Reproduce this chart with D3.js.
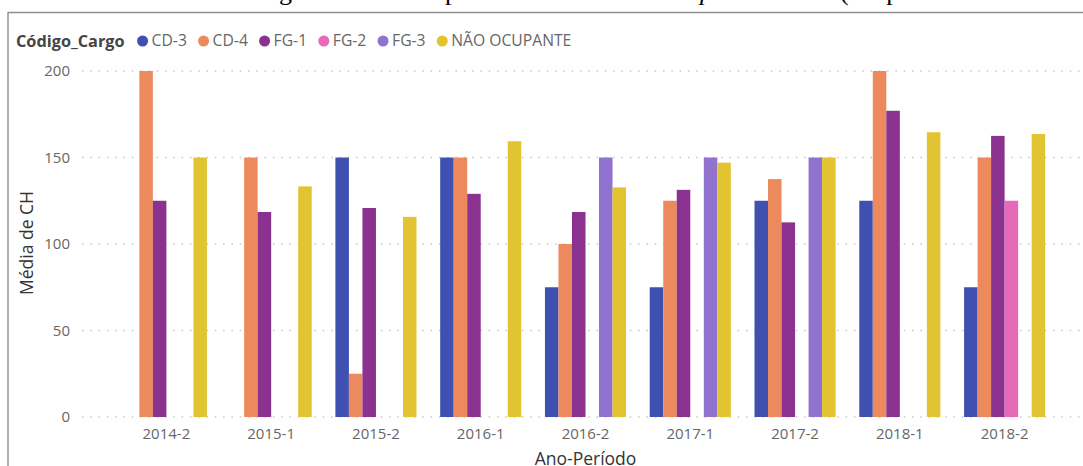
<!DOCTYPE html>
<html>
<head>
<meta charset="utf-8">
<script src="https://cdn.jsdelivr.net/npm/d3@7"></script>
<style>
  html, body { margin: 0; padding: 0; background: #fff; }
  svg { display: block; }
</style>
</head>
<body>
<svg class="chart" width="1083" height="466"></svg>
<script>
    var periods = ["2014-2", "2015-1", "2015-2", "2016-1", "2016-2", "2017-1", "2017-2", "2018-1", "2018-2"];
    var seriesNames = ["CD-3", "CD-4", "FG-1", "FG-2", "FG-3", "NÃO OCUPANTE"];
    var seriesColors = ["#4050b1", "#ec8a5e", "#8b3190", "#e66ab7", "#9173cf", "#e2c433"];

    // Média de CH per period (null = no bar)
    var cd3 = [null, null, 150, 150, 75, 75, 125, 125, 75];
    var cd4 = [200, 150, 25, 150, 100, 125, 137.5, 200, 150];
    var fg1 = [125, 118.5, 120.8, 129, 118.5, 131.3, 112.5, 177, 162.5];
    var fg2 = [null, null, null, null, null, null, null, null, 125];
    var fg3 = [null, null, null, null, 150, 150, 150, null, null];
    var naoOcupante = [150, 133.3, 115.7, 159.4, 132.7, 147, 150, 164.6, 163.6];
    var yTicks = [0, 50, 100, 150, 200];

    var values = [cd3, cd4, fg1, fg2, fg3, naoOcupante];

    var width = 1083;
    var height = 466;
    var svg = d3.select(".chart");
    var font = "'Open Sans', 'Noto Sans', sans-serif";

    // caption of the document above the chart, almost fully cut off
    var caption = [
        { x: 279, anchor: "end", s: "Gráfico 10 - Média de car" },
        { x: 279, anchor: "start", s: "ga horária " },
        { x: 445, anchor: "start", s: "por semestre no " },
        { x: 700, anchor: "end", s: "Cam", italic: true },
        { x: 700, anchor: "start", s: "pus Sede", italic: true },
        { x: 840, anchor: "start", s: "(ocupante ou não de cargo)" }
    ];
    svg.append("g")
        .selectAll("text")
        .data(caption)
        .enter()
        .append("text")
        .attr("x", function (d) { return d.x; })
        .attr("y", -0.5)
        .attr("text-anchor", function (d) { return d.anchor; })
        .attr("font-style", function (d) { return d.italic ? "italic" : "normal"; })
        .attr("font-family", "'Liberation Serif', serif")
        .attr("font-size", 26)
        .attr("fill", "#000")
        .text(function (d) { return d.s; });

    // frame
    svg.append("path")
        .attr("d", "M8," + height + "V12.5H" + width)
        .attr("fill", "none")
        .attr("stroke", "#8f8f8f")
        .attr("stroke-width", 1.4);

    var x0 = d3.scaleBand()
        .domain(periods)
        .range([114, 1057])
        .paddingInner(0.226)
        .paddingOuter(0.113);

    var x1 = d3.scaleBand()
        .domain(seriesNames)
        .range([0, x0.bandwidth()]);

    var yScale = d3.scaleLinear()
        .domain([0, 200])
        .range([417, 71]);

    // grid lines
    svg.append("g")
        .selectAll("line")
        .data(yTicks)
        .enter()
        .append("line")
        .attr("x1", 82)
        .attr("x2", width)
        .attr("y1", function (d) { return yScale(d); })
        .attr("y2", function (d) { return yScale(d); })
        .attr("stroke", "#c8c8c8")
        .attr("stroke-width", 1.5)
        .attr("stroke-dasharray", "1.5,6.8");

    // y tick labels
    svg.append("g")
        .selectAll("text")
        .data(yTicks)
        .enter()
        .append("text")
        .attr("x", 70)
        .attr("y", function (d) { return yScale(d); })
        .attr("dy", "0.35em")
        .attr("text-anchor", "end")
        .attr("font-family", font)
        .attr("font-size", 15)
        .attr("fill", "#666")
        .text(function (d) { return d; });

    // bars
    var groups = svg.append("g")
        .selectAll("g")
        .data(periods)
        .enter()
        .append("g")
        .attr("transform", function (d) { return "translate(" + x0(d) + ",0)"; });

    groups.selectAll("rect")
        .data(function (p, i) {
            return seriesNames.map(function (s, k) {
                return { name: s, value: values[k][i], color: seriesColors[k] };
            }).filter(function (d) { return d.value != null; });
        })
        .enter()
        .append("rect")
        .attr("x", function (d) { return x1(d.name); })
        .attr("y", function (d) { return yScale(d.value); })
        .attr("width", x1.bandwidth())
        .attr("height", function (d) { return yScale(0) - yScale(d.value); })
        .attr("fill", function (d) { return d.color; });

    // x tick labels
    svg.append("g")
        .selectAll("text")
        .data(periods)
        .enter()
        .append("text")
        .attr("x", function (d) { return x0(d) + x0.bandwidth() / 2; })
        .attr("y", 434)
        .attr("dy", "0.35em")
        .attr("text-anchor", "middle")
        .attr("font-family", font)
        .attr("font-size", 15)
        .attr("fill", "#666")
        .text(function (d) { return d; });

    // axis titles
    svg.append("text")
        .attr("x", (114 + 1057) / 2)
        .attr("y", 464.5)
        .attr("text-anchor", "middle")
        .attr("font-family", font)
        .attr("font-size", 17.5)
        .attr("fill", "#333")
        .text("Ano-Período");

    svg.append("text")
        .attr("transform", "translate(27,243) rotate(-90)")
        .attr("dy", "0.35em")
        .attr("text-anchor", "middle")
        .attr("font-family", font)
        .attr("font-size", 17.5)
        .attr("fill", "#333")
        .text("Média de CH");

    // legend
    var legend = svg.append("g");
    var title = legend.append("text")
        .attr("x", 16)
        .attr("y", 41)
        .attr("dy", "0.35em")
        .attr("font-family", font)
        .attr("font-size", 16.3)
        .attr("font-weight", "bold")
        .attr("fill", "#444")
        .text("Código_Cargo");

    var cx = 16 + title.node().getComputedTextLength() + 18;
    seriesNames.forEach(function (s, k) {
        legend.append("circle")
            .attr("cx", cx)
            .attr("cy", 41)
            .attr("r", 5.5)
            .attr("fill", seriesColors[k]);
        var t = legend.append("text")
            .attr("x", cx + 9)
            .attr("y", 41)
            .attr("dy", "0.35em")
            .attr("font-family", font)
            .attr("font-size", 15.7)
            .attr("fill", "#666")
            .text(s);
        cx = cx + 9 + t.node().getComputedTextLength() + 16.7;
    });
</script>
</body>
</html>
